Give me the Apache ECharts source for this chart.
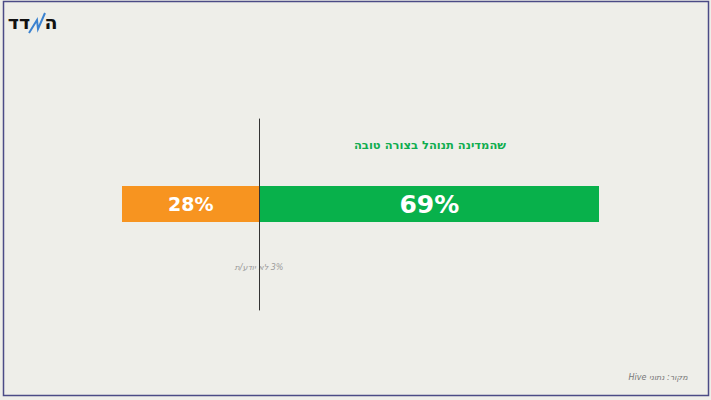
<!DOCTYPE html>
<html dir="rtl" lang="he"><head><meta charset="utf-8">
<script src="https://cdn.jsdelivr.net/npm/echarts@6/dist/echarts.min.js"></script>
<style>html,body{margin:0;padding:0;background:#eeeee9;direction:rtl;}#c{width:711px;height:400px;direction:rtl;}</style>
</head><body><div id="c"></div>
<script>
const categories = ['שהמדינה תנוהל בצורה טובה'];
const againstValues = [28];
const forValues = [69];
const dontKnowValue = 3;
const seriesTitle = 'שהמדינה תנוהל בצורה טובה';
const dontKnowLabel = dontKnowValue + '% לא יודע/ת';
const sourceText = 'מקור: נתוני Hive';

const chart = echarts.init(document.getElementById('c'), null, {renderer: 'svg'});
const xMin = -againstValues[0], xMax = forValues[0];
function txt(x, y, text, fill, font) {
  return {type: 'text', style: {x: x, y: y, text: text, fill: fill, font: font,
    textAlign: 'center', textVerticalAlign: 'middle'}};
}
chart.setOption({
  backgroundColor: '#eeeee9',
  animation: false,
  grid: [
    {left: 122, right: 112, top: 186, height: 36},
    {left: 122, right: 112, top: 119, bottom: 90}
  ],
  xAxis: [
    {gridIndex: 0, type: 'value', min: xMin, max: xMax, show: false},
    {gridIndex: 1, type: 'value', min: xMin, max: xMax, show: false}
  ],
  yAxis: [
    {gridIndex: 0, type: 'category', data: categories, show: false},
    {gridIndex: 1, type: 'value', min: 0, max: 1, show: true,
     axisLine: {show: true, onZero: true, lineStyle: {color: '#333', width: 1}},
     axisTick: {show: false}, axisLabel: {show: false}, splitLine: {show: false}, z: 10}
  ],
  series: [
    {type: 'bar', xAxisIndex: 0, yAxisIndex: 0, stack: 's', data: againstValues.map(v => -v),
     barWidth: 36, itemStyle: {color: '#f79420'},
     label: {show: true, position: 'inside', formatter: p => Math.abs(p.value) + '%',
       color: '#fff', fontFamily: 'DejaVu Sans', fontWeight: 'bold', fontSize: 19}},
    {type: 'bar', xAxisIndex: 0, yAxisIndex: 0, stack: 's', data: forValues,
     barWidth: 36, itemStyle: {color: '#08b14b'},
     label: {show: true, position: 'inside', formatter: p => p.value + '%',
       color: '#fff', fontFamily: 'DejaVu Sans', fontWeight: 'bold', fontSize: 25}}
  ],
  graphic: [
    {type: 'rect', shape: {x: 3.5, y: 1.5, width: 705, height: 394},
     style: {fill: 'none', stroke: '#4b4b86', lineWidth: 1.5}, z: 100},
    txt(430, 145, seriesTitle, '#10ad4f', 'bold 11.5px "DejaVu Sans"'),
    txt(259, 267, dontKnowLabel, '#9a9a9a', 'italic 8px "DejaVu Sans"'),
    txt(658, 377, sourceText, '#777', 'italic 8px "DejaVu Sans"'),
    txt(19, 22, 'דד', '#111', 'bold 19px "DejaVu Sans"'),
    {type: 'polyline', shape: {points: [[29, 33], [37, 20], [38, 29], [45, 13]]},
     style: {stroke: '#3b82d0', lineWidth: 2, fill: 'none'}},
    txt(51, 22, 'ה', '#111', 'bold 19px "DejaVu Sans"')
  ]
});
</script></body></html>
